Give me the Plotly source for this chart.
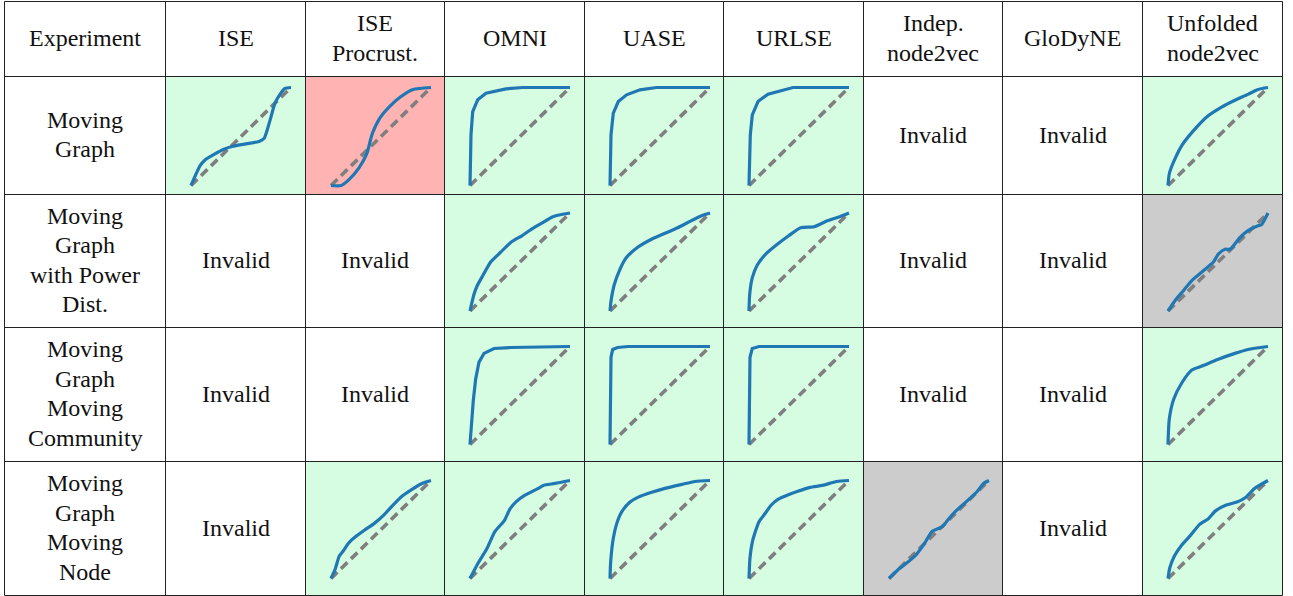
import plotly.graph_objects as go

# ---------------------------------------------------------------- data
methods = ["ISE", "ISE\nProcrust.", "OMNI", "UASE", "URLSE",
           "Indep.\nnode2vec", "GloDyNE", "Unfolded\nnode2vec"]
experiments = ["Moving\nGraph",
               "Moving\nGraph\nwith Power\nDist.",
               "Moving\nGraph\nMoving\nCommunity",
               "Moving\nGraph\nMoving\nNode"]
corner_label = "Experiment"
invalid_label = "Invalid"

# outcome of each method per experiment
mg_status = ["pass", "fail", "pass", "pass", "pass", "invalid", "invalid", "pass"]
pd_status = ["invalid", "invalid", "pass", "pass", "pass", "invalid", "invalid", "null"]
mc_status = ["invalid", "invalid", "pass", "pass", "pass", "invalid", "invalid", "pass"]
mn_status = ["invalid", "pass", "pass", "pass", "pass", "null", "invalid", "pass"]

# P-P curves: Moving Graph
mg_ise_x = [0, 0.03, 0.09, 0.14, 0.235, 0.33, 0.42, 0.52, 0.68, 0.73, 0.76, 0.80, 0.84, 0.89, 0.94, 1.0]
mg_ise_y = [0, 0.07, 0.20, 0.26, 0.32, 0.37, 0.40, 0.42, 0.45, 0.48, 0.56, 0.70, 0.84, 0.93, 0.99, 1.0]
mg_procrust_x = [0, 0.10, 0.18, 0.28, 0.36, 0.41, 0.49, 0.59, 0.69, 0.82, 1.0]
mg_procrust_y = [0, 0.0, 0.06, 0.18, 0.33, 0.52, 0.69, 0.81, 0.90, 0.98, 1.0]
mg_omni_x = [0, 0.01, 0.027, 0.077, 0.16, 0.36, 0.53, 1.0]
mg_omni_y = [0, 0.52, 0.755, 0.874, 0.942, 0.986, 1.0, 1.0]
mg_uase_x = [0, 0.01, 0.033, 0.083, 0.166, 0.30, 0.464, 1.0]
mg_uase_y = [0, 0.517, 0.738, 0.857, 0.925, 0.976, 1.0, 1.0]
mg_urlse_x = [0, 0.013, 0.033, 0.09, 0.19, 0.34, 0.44, 1.0]
mg_urlse_y = [0, 0.517, 0.72, 0.857, 0.932, 0.976, 1.0, 1.0]
mg_unf_x = [0, 0.013, 0.056, 0.139, 0.255, 0.387, 0.536, 0.669, 0.80, 0.90, 1.0]
mg_unf_y = [0, 0.12, 0.24, 0.41, 0.56, 0.70, 0.80, 0.87, 0.93, 0.98, 1.0]

# P-P curves: Moving Graph with Power Dist.
pd_omni_x = [0, 0.04, 0.073, 0.133, 0.207, 0.307, 0.407, 0.523, 0.623, 0.723, 0.823, 0.89, 1.0]
pd_omni_y = [0, 0.17, 0.26, 0.37, 0.50, 0.60, 0.70, 0.77, 0.84, 0.90, 0.96, 0.98, 1.0]
pd_uase_x = [0, 0.01, 0.043, 0.093, 0.16, 0.277, 0.41, 0.543, 0.677, 0.81, 0.91, 1.0]
pd_uase_y = [0, 0.10, 0.27, 0.41, 0.54, 0.65, 0.73, 0.79, 0.85, 0.92, 0.97, 1.0]
pd_urlse_x = [0, 0.007, 0.033, 0.083, 0.167, 0.283, 0.40, 0.517, 0.65, 0.783, 0.90, 1.0]
pd_urlse_y = [0, 0.17, 0.34, 0.47, 0.58, 0.68, 0.77, 0.85, 0.86, 0.92, 0.96, 1.0]
pd_unf_x = [0, 0.073, 0.156, 0.238, 0.354, 0.454, 0.503, 0.57, 0.62, 0.72, 0.80, 0.90, 0.934, 1.0]
pd_unf_y = [0, 0.11, 0.21, 0.31, 0.41, 0.50, 0.58, 0.63, 0.63, 0.75, 0.82, 0.87, 0.88, 1.0]

# P-P curves: Moving Graph Moving Community
mc_omni_x = [0, 0.013, 0.033, 0.057, 0.09, 0.14, 0.24, 0.41, 1.0]
mc_omni_y = [0, 0.18, 0.45, 0.67, 0.84, 0.93, 0.98, 0.99, 1.0]
mc_uase_x = [0, 0.003, 0.01, 0.027, 0.076, 0.18, 1.0]
mc_uase_y = [0, 0.52, 0.89, 0.97, 0.99, 1.0, 1.0]
mc_urlse_x = [0, 0.003, 0.01, 0.033, 0.10, 1.0]
mc_urlse_y = [0, 0.52, 0.89, 0.98, 1.0, 1.0]
mc_unf_x = [0, 0.013, 0.056, 0.139, 0.238, 0.338, 0.503, 0.669, 0.80, 1.0]
mc_unf_y = [0, 0.26, 0.46, 0.63, 0.76, 0.80, 0.87, 0.93, 0.97, 1.0]

# P-P curves: Moving Graph Moving Node
mn_procrust_x = [0, 0.043, 0.083, 0.122, 0.175, 0.25, 0.33, 0.43, 0.53, 0.63, 0.71, 0.81, 0.91, 1.0]
mn_procrust_y = [0, 0.10, 0.23, 0.28, 0.36, 0.43, 0.49, 0.56, 0.65, 0.76, 0.84, 0.91, 0.97, 1.0]
mn_omni_x = [0, 0.083, 0.167, 0.25, 0.343, 0.40, 0.457, 0.55, 0.683, 0.733, 0.85, 1.0]
mn_omni_y = [0, 0.16, 0.30, 0.48, 0.59, 0.71, 0.78, 0.85, 0.92, 0.95, 0.97, 1.0]
mn_uase_x = [0, 0.007, 0.033, 0.067, 0.117, 0.20, 0.283, 0.417, 0.55, 0.717, 0.85, 1.0]
mn_uase_y = [0, 0.175, 0.41, 0.56, 0.68, 0.78, 0.83, 0.88, 0.92, 0.96, 0.99, 1.0]
mn_urlse_x = [0, 0.01, 0.035, 0.10, 0.152, 0.223, 0.293, 0.382, 0.488, 0.611, 0.735, 0.876, 1.0]
mn_urlse_y = [0, 0.21, 0.38, 0.58, 0.65, 0.75, 0.81, 0.85, 0.89, 0.93, 0.95, 0.99, 1.0]
mn_indep_x = [0, 0.09, 0.18, 0.27, 0.357, 0.43, 0.536, 0.59, 0.66, 0.768, 0.875, 0.946, 1.0]
mn_indep_y = [0, 0.09, 0.16, 0.24, 0.36, 0.48, 0.53, 0.60, 0.68, 0.78, 0.88, 0.97, 1.0]
mn_unf_x = [0, 0.018, 0.064, 0.136, 0.225, 0.314, 0.404, 0.475, 0.582, 0.69, 0.779, 0.868, 1.0]
mn_unf_y = [0, 0.11, 0.23, 0.34, 0.44, 0.55, 0.61, 0.69, 0.75, 0.78, 0.83, 0.92, 1.0]

statuses = [mg_status, pd_status, mc_status, mn_status]
curves = {
    (0, 0): (mg_ise_x, mg_ise_y), (0, 1): (mg_procrust_x, mg_procrust_y),
    (0, 2): (mg_omni_x, mg_omni_y), (0, 3): (mg_uase_x, mg_uase_y),
    (0, 4): (mg_urlse_x, mg_urlse_y), (0, 7): (mg_unf_x, mg_unf_y),
    (1, 2): (pd_omni_x, pd_omni_y), (1, 3): (pd_uase_x, pd_uase_y),
    (1, 4): (pd_urlse_x, pd_urlse_y), (1, 7): (pd_unf_x, pd_unf_y),
    (2, 2): (mc_omni_x, mc_omni_y), (2, 3): (mc_uase_x, mc_uase_y),
    (2, 4): (mc_urlse_x, mc_urlse_y), (2, 7): (mc_unf_x, mc_unf_y),
    (3, 1): (mn_procrust_x, mn_procrust_y), (3, 2): (mn_omni_x, mn_omni_y),
    (3, 3): (mn_uase_x, mn_uase_y), (3, 4): (mn_urlse_x, mn_urlse_y),
    (3, 5): (mn_indep_x, mn_indep_y), (3, 7): (mn_unf_x, mn_unf_y),
}
# curves with a sharp corner are drawn straight, the rest smoothed
sharp_cells = {(0, 2), (0, 3), (0, 4), (2, 2), (2, 3), (2, 4)}

# ---------------------------------------------------------------- layout
W, H = 1293, 596
col_edges = [4.5, 165.5, 305.5, 444.5, 584.5, 723.5, 863.5, 1002.5, 1142.5, 1282.5]
row_edges = [1.5, 76.5, 194.5, 327.5, 461.5, 595.5]
fills = {"pass": "#d6fde1", "fail": "#ffb3b3", "null": "#cccccc"}
SERIF = "Liberation Serif, Liberation Sans, serif"
FONT = dict(family=SERIF, size=24, color="#111111")
LINE_GAP = 29.5
PLOT_W, PLOT_H = 100, 98      # pixel size of the unit square in each cell
LEFT_PAD = 25.5
PAD = 0.04                    # axis range padding so thick lines are not clipped

fig = go.Figure()
shapes, annotations = [], []


def add_text(text, cx, cy):
    lines = text.split("\n")
    n = len(lines)
    for i, line in enumerate(lines):
        annotations.append(dict(
            x=cx, y=cy + (i - (n - 1) / 2) * LINE_GAP, xref="x", yref="y",
            text=line, showarrow=False, font=FONT,
            xanchor="center", yanchor="middle"))


# header row
headers = [corner_label] + methods
for c, label in enumerate(headers):
    add_text(label, (col_edges[c] + col_edges[c + 1]) / 2,
             (row_edges[0] + row_edges[1]) / 2 - 1)

axis_id = 1
for r, exp in enumerate(experiments):
    y0, y1 = row_edges[r + 1], row_edges[r + 2]
    cy = (y0 + y1) / 2
    add_text(exp, (col_edges[0] + col_edges[1]) / 2, cy - 1)
    for m, status in enumerate(statuses[r]):
        x0, x1 = col_edges[m + 1], col_edges[m + 2]
        if status == "invalid":
            add_text(invalid_label, (x0 + x1) / 2, cy - 1)
            continue
        shapes.append(dict(type="rect", xref="x", yref="y", x0=x0, x1=x1,
                           y0=y0, y1=y1, fillcolor=fills[status],
                           line=dict(width=0), layer="below"))
        # unit square position in pixels
        px0 = x0 + LEFT_PAD
        py0 = cy + 1 + PLOT_H / 2            # pixel row of y = 0
        dx0 = (px0 - PAD * PLOT_W) / W
        dx1 = (px0 + (1 + PAD) * PLOT_W) / W
        dy0 = (H - (py0 + PAD * PLOT_H)) / H
        dy1 = (H - (py0 - (1 + PAD) * PLOT_H)) / H
        axis_id += 1
        xa, ya = f"x{axis_id}", f"y{axis_id}"
        fig.update_layout(**{
            f"xaxis{axis_id}": dict(domain=[dx0, dx1], range=[-PAD, 1 + PAD],
                                    visible=False, anchor=ya, fixedrange=True),
            f"yaxis{axis_id}": dict(domain=[dy0, dy1], range=[-PAD, 1 + PAD],
                                    visible=False, anchor=xa, fixedrange=True),
        })
        fig.add_trace(go.Scatter(x=[0, 1], y=[0, 1], mode="lines",
                                 line=dict(color="#7f7f7f", width=3.6, dash="9px,5px"),
                                 xaxis=xa, yaxis=ya, hoverinfo="skip"))
        cxs, cys = curves[(r, m)]
        smooth = (r, m) not in sharp_cells
        fig.add_trace(go.Scatter(x=cxs, y=cys, mode="lines",
                                 line=dict(color="#1f77b4", width=3.2,
                                           shape="spline" if smooth else "linear",
                                           smoothing=0.6 if smooth else None),
                                 xaxis=xa, yaxis=ya, hoverinfo="skip"))

# grid lines
for x in col_edges:
    shapes.append(dict(type="line", xref="x", yref="y", x0=x, x1=x,
                       y0=row_edges[0], y1=row_edges[-1],
                       line=dict(color="#222222", width=1), layer="above"))
for y in row_edges:
    shapes.append(dict(type="line", xref="x", yref="y", x0=col_edges[0],
                       x1=col_edges[-1], y0=y, y1=y,
                       line=dict(color="#222222", width=1), layer="above"))

fig.update_layout(
    width=W, height=H, margin=dict(l=0, r=0, t=0, b=0),
    paper_bgcolor="white", plot_bgcolor="rgba(0,0,0,0)",
    font=dict(family=SERIF),
    showlegend=False,
    xaxis=dict(domain=[0, 1], range=[0, W], visible=False, fixedrange=True),
    yaxis=dict(domain=[0, 1], range=[H, 0], visible=False, fixedrange=True),
    shapes=shapes, annotations=annotations,
)

fig.write_html("out.html", config={"displayModeBar": False})
